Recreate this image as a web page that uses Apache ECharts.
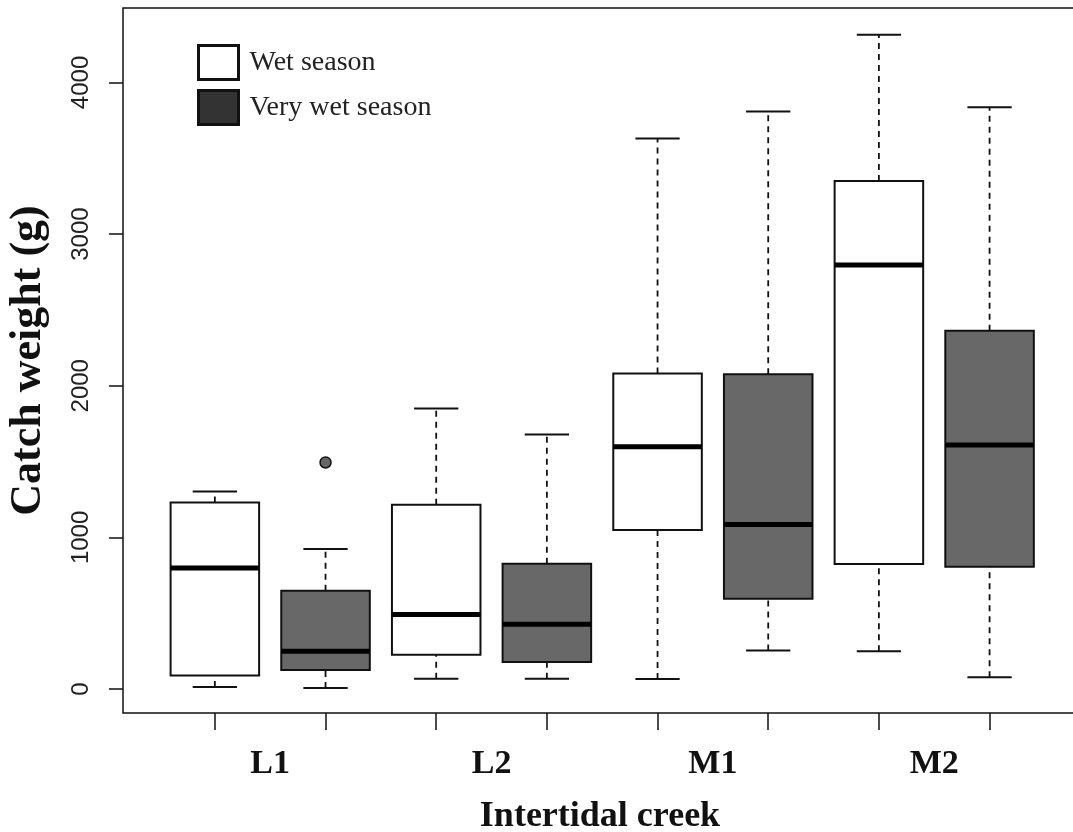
<!DOCTYPE html>
<html>
<head>
<meta charset="utf-8">
<script src="https://cdn.jsdelivr.net/npm/echarts@6/dist/echarts.min.js"></script>
<style>
  html, body { margin: 0; padding: 0; background: #fff; }
  #chart { width: 1073px; height: 832px; }
</style>
</head>
<body>
<div id="chart"></div>
<script>
// Creeks along the x axis
const creeks = ['L1', 'L2', 'M1', 'M2'];
const seasons = ['Wet season', 'Very wet season'];

// Five-number summaries per creek: [lower whisker, Q1, median, Q3, upper whisker]
const wetSeason = [
  [13, 90, 798, 1230, 1302],
  [68, 226, 492, 1215, 1850],
  [66, 1048, 1597, 2081, 3630],
  [250, 824, 2797, 3350, 4315]
];
const veryWetSeason = [
  [7, 125, 250, 648, 923],
  [68, 178, 428, 826, 1678],
  [254, 595, 1085, 2076, 3808],
  [77, 806, 1610, 2362, 3837]
];
// Outlying catches: [creek index, weight]
const veryWetOutliers = [[0, 1494]];

// Tick labels on the weight axis
const weightTicks = [0, 1000, 2000, 3000, 4000];

const BOX_WIDTH = 0.8;     // in x-axis units (one unit per box slot)
const STAPLE_WIDTH = 0.4;
const INK = '#111';

// slot 1,3,5,7 = wet season; 2,4,6,8 = very wet season
const slotOf = (creekIdx, seasonIdx) => creekIdx * 2 + 1 + seasonIdx;

function toData(stats, seasonIdx) {
  return stats.map((s, i) => [slotOf(i, seasonIdx)].concat(s));
}

function renderBox(params, api) {
  const x = api.value(0);
  const lo = api.value(1), q1 = api.value(2), med = api.value(3),
        q3 = api.value(4), hi = api.value(5);
  const cx = api.coord([x, 0])[0];
  const halfBox = api.size([BOX_WIDTH, 0])[0] / 2;
  const halfStaple = api.size([STAPLE_WIDTH, 0])[0] / 2;
  const py = v => api.coord([x, v])[1];
  const fill = api.visual('color');

  const dashed = { stroke: INK, lineWidth: 1.8, lineDash: [6, 5] };
  const solid = { stroke: INK, lineWidth: 2 };

  return {
    type: 'group',
    children: [
      { type: 'line', shape: { x1: cx, y1: py(q3), x2: cx, y2: py(hi) }, style: dashed },
      { type: 'line', shape: { x1: cx, y1: py(lo), x2: cx, y2: py(q1) }, style: dashed },
      { type: 'line', shape: { x1: cx - halfStaple, y1: py(hi), x2: cx + halfStaple, y2: py(hi) }, style: solid },
      { type: 'line', shape: { x1: cx - halfStaple, y1: py(lo), x2: cx + halfStaple, y2: py(lo) }, style: solid },
      {
        type: 'rect',
        shape: { x: cx - halfBox, y: py(q3), width: halfBox * 2, height: py(q1) - py(q3) },
        style: { fill: fill, stroke: INK, lineWidth: 2 }
      },
      { type: 'line', shape: { x1: cx - halfBox, y1: py(med), x2: cx + halfBox, y2: py(med) },
        style: { stroke: '#000', lineWidth: 5 } }
    ]
  };
}

const chart = echarts.init(document.getElementById('chart'), null, { renderer: 'canvas' });

chart.setOption({
  backgroundColor: '#fff',
  animation: false,
  grid: {
    show: true,
    left: 123,
    top: 8,
    width: 954,
    height: 705,
    outerBoundsMode: 'none',
    containLabel: false,
    borderColor: INK,
    borderWidth: 1.5,
    backgroundColor: 'transparent'
  },
  legend: {
    orient: 'vertical',
    left: 197,
    top: 44,
    padding: 0,
    itemWidth: 40,
    itemHeight: 34,
    itemGap: 8,
    selectedMode: false,
    icon: 'rect',
    data: [
      { name: seasons[0], itemStyle: { color: '#fff', borderColor: INK, borderWidth: 3 } },
      { name: seasons[1], itemStyle: { color: '#333', borderColor: INK, borderWidth: 3 } }
    ],
    textStyle: {
      fontFamily: 'Liberation Serif',
      fontSize: 28,
      lineHeight: 34,
      color: '#222',
      padding: [0, 0, 0, 6]
    }
  },
  xAxis: {
    type: 'value',
    min: 0.17,
    max: 8.79,
    name: 'Intertidal creek',
    nameLocation: 'middle',
    nameGap: 86,
    nameTextStyle: {
      fontFamily: 'Liberation Serif',
      fontWeight: 'bold',
      fontSize: 36,
      color: INK
    },
    axisLine: { show: false, onZero: false },
    splitLine: { show: false },
    axisTick: {
      show: true,
      length: 17,
      lineStyle: { color: INK, width: 1.5 },
      customValues: creeks.flatMap((c, i) => [slotOf(i, 0), slotOf(i, 1)])
    },
    axisLabel: {
      margin: 34,
      fontFamily: 'Liberation Serif',
      fontWeight: 'bold',
      fontSize: 34,
      color: INK,
      customValues: creeks.map((c, i) => slotOf(i, 0) + 0.5),
      formatter: v => creeks[Math.round((v - 1.5) / 2)]
    }
  },
  yAxis: {
    type: 'value',
    min: -158,
    max: 4491,
    name: 'Catch weight (g)',
    nameLocation: 'middle',
    nameRotate: 90,
    nameGap: 72,
    nameTextStyle: {
      fontFamily: 'Liberation Serif',
      fontWeight: 'bold',
      fontSize: 44,
      color: INK
    },
    axisLine: { show: false, onZero: false },
    splitLine: { show: false },
    axisTick: {
      show: true,
      length: 14,
      lineStyle: { color: INK, width: 1.5 },
      customValues: weightTicks
    },
    axisLabel: {
      rotate: 90,
      margin: 30,
      fontFamily: 'Liberation Sans',
      fontSize: 24,
      color: '#222',
      customValues: weightTicks,
      formatter: v => String(v)
    }
  },
  series: [
    {
      name: seasons[0],
      type: 'custom',
      renderItem: renderBox,
      itemStyle: { color: '#fff' },
      encode: { x: 0, y: [1, 2, 3, 4, 5] },
      data: toData(wetSeason, 0),
      z: 3
    },
    {
      name: seasons[1],
      type: 'custom',
      renderItem: renderBox,
      itemStyle: { color: '#686868' },
      encode: { x: 0, y: [1, 2, 3, 4, 5] },
      data: toData(veryWetSeason, 1),
      z: 3
    },
    {
      name: seasons[1],
      type: 'scatter',
      symbol: 'circle',
      symbolSize: 11,
      itemStyle: { color: '#666', borderColor: INK, borderWidth: 1.5, opacity: 1 },
      data: veryWetOutliers.map(o => [slotOf(o[0], 1), o[1]]),
      z: 4
    }
  ]
});
</script>
</body>
</html>
